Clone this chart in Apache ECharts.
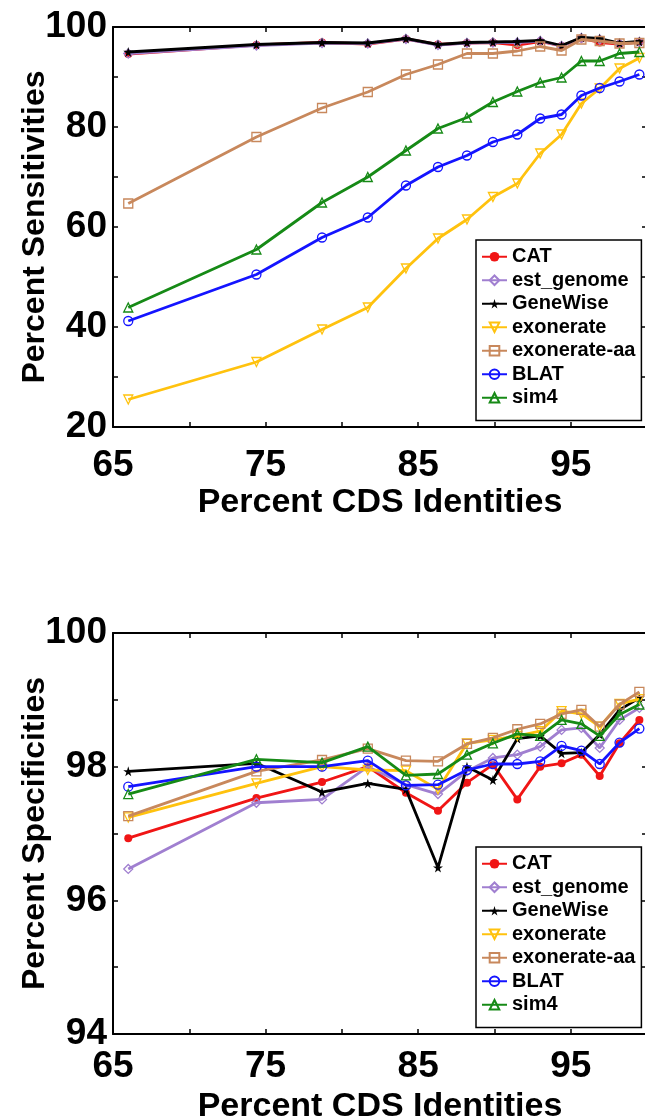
<!DOCTYPE html>
<html><head><meta charset="utf-8">
<script src="https://cdn.jsdelivr.net/npm/echarts@6/dist/echarts.min.js"></script>
<style>html,body{margin:0;padding:0;background:#fff}#c{width:645px;height:1120px}</style>
</head><body><div id="c"></div>
<script>
// ---- data ----
const identities = [66.0, 74.4, 78.7, 81.7, 84.2, 86.3, 88.2, 89.9, 91.5, 93.0, 94.4, 95.7, 96.9, 98.2, 99.5];
const seriesNames = ['CAT', 'est_genome', 'GeneWise', 'exonerate', 'exonerate-aa', 'BLAT', 'sim4'];

// Percent Sensitivities
const sensCAT        = [94.6, 96.4, 96.9, 96.6, 97.6, 96.5, 96.8, 96.9, 96.4, 97.1, 96.2, 97.7, 96.9, 96.6, 97.0];
const sensEstGenome  = [94.7, 96.3, 96.8, 96.7, 97.6, 96.4, 96.8, 96.9, 96.9, 97.2, 96.2, 97.8, 97.5, 96.7, 97.0];
const sensGeneWise   = [95.0, 96.5, 96.9, 96.8, 97.7, 96.5, 96.9, 97.0, 97.1, 97.3, 96.3, 97.9, 97.7, 96.8, 97.1];
const sensExonerate  = [25.5, 33.0, 39.5, 43.9, 51.7, 57.7, 61.5, 66.0, 68.7, 74.7, 78.5, 84.7, 87.7, 91.7, 93.8];
const sensExonerateAA= [64.7, 78.0, 83.8, 87.0, 90.5, 92.5, 94.7, 94.7, 95.2, 96.1, 95.3, 97.5, 97.2, 96.7, 96.8];
const sensBLAT       = [41.2, 50.5, 57.9, 61.9, 68.3, 72.0, 74.3, 77.0, 78.5, 81.7, 82.5, 86.3, 87.8, 89.1, 90.5];
const sensSim4       = [43.9, 55.5, 64.9, 70.0, 75.3, 79.7, 81.9, 85.0, 87.1, 88.9, 89.9, 93.2, 93.2, 94.7, 95.0];

// Percent Specificities
const specCAT        = [96.93, 97.53, 97.77, 98.00, 97.61, 97.34, 97.76, 98.03, 97.51, 98.00, 98.05, 98.18, 97.86, 98.35, 98.70];
const specEstGenome  = [96.47, 97.46, 97.51, 98.00, 97.73, 97.59, 97.93, 98.13, 98.18, 98.30, 98.55, 98.58, 98.28, 98.70, 98.88];
const specGeneWise   = [97.93, 98.05, 97.62, 97.75, 97.66, 96.49, 98.00, 97.80, 98.42, 98.46, 98.20, 98.21, 98.48, 98.85, 99.03];
const specExonerate  = [97.24, 97.75, 98.00, 97.95, 97.94, 97.66, 98.35, 98.40, 98.46, 98.53, 98.83, 98.79, 98.60, 98.94, 99.01];
const specExonerateAA= [97.26, 97.93, 98.10, 98.27, 98.09, 98.08, 98.34, 98.43, 98.56, 98.64, 98.79, 98.85, 98.60, 98.93, 99.12];
const specBLAT       = [97.70, 98.00, 98.00, 98.09, 97.72, 97.73, 97.95, 98.04, 98.04, 98.08, 98.31, 98.24, 98.04, 98.36, 98.57];
const specSim4       = [97.59, 98.11, 98.06, 98.30, 97.87, 97.89, 98.18, 98.35, 98.49, 98.46, 98.70, 98.64, 98.46, 98.78, 98.93];

const xTickLabels = [65, 75, 85, 95];
const sensTickLabels = [20, 40, 60, 80, 100];
const specTickLabels = [94, 96, 98, 100];

// ---- styling ----
const FONT = '"Liberation Sans", Arial, sans-serif';
const colors = ['#f01515', '#a07fd0', '#000000', '#ffc20e', '#c8885c', '#1414ff', '#168a16'];
const STAR = 'path://M50,0 L61,35 L98,35 L68,57 L79,91 L50,70 L21,91 L32,57 L2,35 L39,35 Z';
const symbols = [
  {symbol: 'circle', size: 8, filled: true},
  {symbol: 'diamond', size: 9, filled: false},
  {symbol: STAR, size: 10, filled: true},
  {symbol: 'triangle', size: 9, filled: false, rotate: 180},
  {symbol: 'rect', size: 9, filled: false},
  {symbol: 'circle', size: 9, filled: false},
  {symbol: 'triangle', size: 9, filled: false}
];
const sensData = [sensCAT, sensEstGenome, sensGeneWise, sensExonerate, sensExonerateAA, sensBLAT, sensSim4];
const specData = [specCAT, specEstGenome, specGeneWise, specExonerate, specExonerateAA, specBLAT, specSim4];

function makeSeries(values, idx, gi) {
  const s = symbols[idx];
  const c = colors[idx];
  return {
    name: seriesNames[idx], type: 'line',
    xAxisIndex: gi * 2, yAxisIndex: gi * 2,
    data: identities.map((x, i) => [x, values[i]]),
    symbol: s.symbol, symbolSize: s.size, symbolRotate: s.rotate || 0,
    showAllSymbol: true,
    lineStyle: {color: c, width: 2.8},
    itemStyle: s.filled ? {color: c, borderColor: c, borderWidth: 0}
                        : {color: 'rgba(255,255,255,0)', borderColor: c, borderWidth: 1.3},
    emphasis: {disabled: true},
    animation: false,
    z: 2 + idx
  };
}

const axisLine = {show: true, onZero: false, lineStyle: {color: '#000', width: 2}};
const tick = {show: true, inside: true, length: 5, lineStyle: {color: '#000', width: 1.5}};
const tickFont = {fontFamily: FONT, fontWeight: 'bold', fontSize: 37, color: '#000'};
const xNameFont = {fontFamily: FONT, fontWeight: 'bold', fontSize: 34, color: '#000'};
const yNameFont = {fontFamily: FONT, fontWeight: 'bold', fontSize: 32, color: '#000'};

function xAxes(gi, labelMargin, gap) {
  return [
    {gridIndex: gi, type: 'value', min: 65, max: 100, interval: 5, position: 'bottom',
     axisLine, axisTick: tick, splitLine: {show: false},
     axisLabel: Object.assign({margin: labelMargin, showMaxLabel: true, showMinLabel: true, hideOverlap: false,
       formatter: v => xTickLabels.includes(v) ? String(v) : ''}, tickFont),
     name: 'Percent CDS Identities', nameLocation: 'middle', nameGap: gap, nameMoveOverlap: false,
     nameTextStyle: xNameFont},
    {gridIndex: gi, type: 'value', min: 65, max: 100, interval: 5, position: 'top',
     axisLine, axisTick: tick, splitLine: {show: false}, axisLabel: {show: false}}
  ];
}
function yAxes(gi, min, max, interval, labels, name) {
  return [
    {gridIndex: gi, type: 'value', min, max, interval, position: 'left',
     axisLine, axisTick: tick, splitLine: {show: false},
     axisLabel: Object.assign({margin: 6, showMaxLabel: true, showMinLabel: true, hideOverlap: false,
       formatter: v => labels.includes(v) ? String(v) : ''}, tickFont),
     name, nameLocation: 'middle', nameGap: 62, nameRotate: 90, nameMoveOverlap: false,
     nameTextStyle: yNameFont},
    {gridIndex: gi, type: 'value', min, max, interval, position: 'right',
     axisLine, axisTick: tick, splitLine: {show: false}, axisLabel: {show: false}}
  ];
}
function legend(top) {
  return {
    data: seriesNames, orient: 'vertical', left: 476, top,
    backgroundColor: '#fff', borderColor: '#000', borderWidth: 1.5,
    padding: [5, 6, 11, 5], itemGap: 0, itemWidth: 25, itemHeight: 12,
    textStyle: {fontFamily: FONT, fontWeight: 'bold', fontSize: 20, color: '#000', lineHeight: 23.5},
    selectedMode: false
  };
}

const series = [];
sensData.forEach((v, i) => series.push(makeSeries(v, i, 0)));
specData.forEach((v, i) => series.push(makeSeries(v, i, 1)));

const chart = echarts.init(document.getElementById('c'), null, {renderer: 'canvas'});
chart.setOption({
  backgroundColor: '#fff',
  animation: false,
  grid: [
    {left: 113, top: 27, width: 534, height: 400, outerBoundsMode: 'none', containLabel: false},
    {left: 113, top: 633, width: 534, height: 401, outerBoundsMode: 'none', containLabel: false}
  ],
  xAxis: [...xAxes(0, 20, 59), ...xAxes(1, 14, 56)],
  yAxis: [...yAxes(0, 20, 100, 10, sensTickLabels, 'Percent Sensitivities'),
          ...yAxes(1, 94, 100, 1, specTickLabels, 'Percent Specificities')],
  legend: [legend(240), legend(847)],
  series
});
</script></body></html>
